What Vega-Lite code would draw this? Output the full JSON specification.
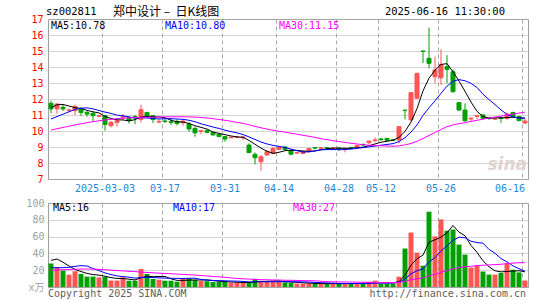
{
"$schema": "https://vega.github.io/schema/vega-lite/v6.json",
"background": "#ffffff",
"padding": {"left": 25, "top": 5, "right": 5, "bottom": 2},
"config": {"view": {"stroke": "#a0a0a0", "strokeWidth": 1}, "font": "DejaVu Sans Mono",
  "axis": {"labelOverlap": false, "labelFlush": false, "labelSeparation": 0}},
"datasets": {"k": [
{"d":"2025-02-18","o":11.73,"h":11.89,"l":11.10,"c":11.38,"v":28.0,"m5":11.46,"m10":10.75,"m30":10.06,"vm5":31.7,"vm10":23.0,"vm30":19.8},
{"d":"2025-02-19","o":11.38,"h":11.73,"l":11.08,"c":11.69,"v":23.4,"m5":11.64,"m10":10.90,"m30":10.14,"vm5":33.3,"vm10":23.0,"vm30":20.3},
{"d":"2025-02-20","o":11.48,"h":11.69,"l":11.25,"c":11.38,"v":19.6,"m5":11.66,"m10":11.05,"m30":10.22,"vm5":29.5,"vm10":23.0,"vm30":20.6},
{"d":"2025-02-21","o":11.28,"h":11.40,"l":11.20,"c":11.32,"v":14.6,"m5":11.56,"m10":11.20,"m30":10.30,"vm5":25.0,"vm10":23.5,"vm30":20.8},
{"d":"2025-02-24","o":11.27,"h":11.66,"l":11.00,"c":11.52,"v":18.8,"m5":11.46,"m10":11.35,"m30":10.38,"vm5":20.9,"vm10":24.5,"vm30":21.2},
{"d":"2025-02-25","o":11.41,"h":11.48,"l":10.94,"c":11.16,"v":15.6,"m5":11.41,"m10":11.42,"m30":10.45,"vm5":18.4,"vm10":25.4,"vm30":21.4},
{"d":"2025-02-26","o":11.16,"h":11.27,"l":10.89,"c":11.06,"v":12.4,"m5":11.29,"m10":11.45,"m30":10.52,"vm5":16.2,"vm10":25.0,"vm30":21.4},
{"d":"2025-02-27","o":11.10,"h":11.20,"l":10.60,"c":10.96,"v":12.4,"m5":11.20,"m10":11.38,"m30":10.58,"vm5":14.8,"vm10":22.0,"vm30":21.3},
{"d":"2025-02-28","o":10.92,"h":11.00,"l":10.85,"c":10.95,"v":11.4,"m5":11.13,"m10":11.28,"m30":10.64,"vm5":14.1,"vm10":19.5,"vm30":21.0},
{"d":"2025-03-03","o":10.96,"h":11.00,"l":10.02,"c":10.41,"v":12.0,"m5":10.91,"m10":11.18,"m30":10.69,"vm5":12.8,"vm10":16.8,"vm30":20.6},
{"d":"2025-03-04","o":10.33,"h":10.62,"l":10.22,"c":10.54,"v":7.7,"m5":10.78,"m10":11.10,"m30":10.73,"vm5":11.2,"vm10":14.8,"vm30":20.1},
{"d":"2025-03-05","o":10.54,"h":10.77,"l":10.27,"c":10.64,"v":7.7,"m5":10.70,"m10":10.99,"m30":10.77,"vm5":10.2,"vm10":13.2,"vm30":19.6},
{"d":"2025-03-06","o":10.85,"h":11.06,"l":10.69,"c":10.90,"v":11.6,"m5":10.69,"m10":10.95,"m30":10.80,"vm5":10.1,"vm10":12.4,"vm30":19.1},
{"d":"2025-03-07","o":10.84,"h":10.91,"l":10.47,"c":10.65,"v":7.5,"m5":10.63,"m10":10.88,"m30":10.82,"vm5":9.3,"vm10":11.7,"vm30":18.7},
{"d":"2025-03-10","o":10.90,"h":11.00,"l":10.44,"c":10.83,"v":7.5,"m5":10.71,"m10":10.81,"m30":10.84,"vm5":8.4,"vm10":10.6,"vm30":18.3},
{"d":"2025-03-11","o":10.73,"h":11.65,"l":10.53,"c":11.33,"v":21.4,"m5":10.87,"m10":10.83,"m30":10.85,"vm5":11.1,"vm10":11.2,"vm30":17.8},
{"d":"2025-03-12","o":11.16,"h":11.20,"l":10.87,"c":10.90,"v":15.5,"m5":10.92,"m10":10.81,"m30":10.86,"vm5":12.7,"vm10":11.5,"vm30":17.3},
{"d":"2025-03-13","o":10.96,"h":10.98,"l":10.50,"c":10.72,"v":9.5,"m5":10.89,"m10":10.79,"m30":10.87,"vm5":12.3,"vm10":11.2,"vm30":16.9},
{"d":"2025-03-14","o":10.56,"h":10.72,"l":10.50,"c":10.60,"v":8.7,"m5":10.88,"m10":10.75,"m30":10.88,"vm5":12.5,"vm10":10.9,"vm30":16.5},
{"d":"2025-03-17","o":10.62,"h":10.75,"l":10.50,"c":10.60,"v":7.5,"m5":10.83,"m10":10.77,"m30":10.88,"vm5":12.5,"vm10":10.5,"vm30":16.1},
{"d":"2025-03-18","o":10.58,"h":10.75,"l":10.38,"c":10.53,"v":7.5,"m5":10.67,"m10":10.77,"m30":10.89,"vm5":9.7,"vm10":10.4,"vm30":15.8},
{"d":"2025-03-19","o":10.60,"h":10.72,"l":10.35,"c":10.47,"v":6.3,"m5":10.58,"m10":10.75,"m30":10.89,"vm5":7.9,"vm10":10.3,"vm30":15.4},
{"d":"2025-03-20","o":10.52,"h":10.73,"l":10.33,"c":10.62,"v":9.5,"m5":10.56,"m10":10.73,"m30":10.89,"vm5":7.9,"vm10":10.1,"vm30":15.0},
{"d":"2025-03-21","o":10.44,"h":10.54,"l":9.96,"c":10.13,"v":10.3,"m5":10.47,"m10":10.67,"m30":10.88,"vm5":8.2,"vm10":10.4,"vm30":14.6},
{"d":"2025-03-24","o":10.16,"h":10.27,"l":9.64,"c":9.89,"v":8.3,"m5":10.33,"m10":10.58,"m30":10.87,"vm5":8.4,"vm10":10.5,"vm30":14.2},
{"d":"2025-03-25","o":9.98,"h":10.05,"l":9.80,"c":10.02,"v":7.1,"m5":10.23,"m10":10.45,"m30":10.85,"vm5":8.3,"vm10":9.0,"vm30":13.7},
{"d":"2025-03-26","o":10.02,"h":10.06,"l":9.85,"c":9.92,"v":6.9,"m5":10.12,"m10":10.35,"m30":10.81,"vm5":8.4,"vm10":8.2,"vm30":13.1},
{"d":"2025-03-27","o":9.90,"h":9.95,"l":9.70,"c":9.76,"v":6.0,"m5":9.94,"m10":10.25,"m30":10.77,"vm5":7.7,"vm10":7.8,"vm30":12.5},
{"d":"2025-03-28","o":9.80,"h":9.85,"l":9.60,"c":9.66,"v":6.0,"m5":9.85,"m10":10.16,"m30":10.72,"vm5":6.9,"vm10":7.5,"vm30":12.0},
{"d":"2025-03-31","o":9.65,"h":9.68,"l":9.33,"c":9.50,"v":6.0,"m5":9.77,"m10":10.05,"m30":10.67,"vm5":6.4,"vm10":7.4,"vm30":11.6},
{"d":"2025-04-01","o":9.58,"h":9.64,"l":9.55,"c":9.62,"v":5.0,"m5":9.69,"m10":9.96,"m30":10.61,"vm5":6.0,"vm10":7.1,"vm30":10.8},
{"d":"2025-04-02","o":9.60,"h":9.70,"l":9.55,"c":9.63,"v":5.0,"m5":9.63,"m10":9.88,"m30":10.54,"vm5":5.6,"vm10":7.0,"vm30":10.2},
{"d":"2025-04-03","o":9.58,"h":9.66,"l":9.45,"c":9.63,"v":5.0,"m5":9.61,"m10":9.78,"m30":10.48,"vm5":5.4,"vm10":6.6,"vm30":9.7},
{"d":"2025-04-07","o":9.12,"h":9.23,"l":8.60,"c":8.66,"v":5.5,"m5":9.41,"m10":9.63,"m30":10.39,"vm5":5.3,"vm10":6.1,"vm30":9.4},
{"d":"2025-04-08","o":8.54,"h":8.66,"l":7.91,"c":8.33,"v":9.7,"m5":9.17,"m10":9.47,"m30":10.29,"vm5":6.0,"vm10":6.2,"vm30":9.1},
{"d":"2025-04-09","o":8.08,"h":8.50,"l":7.52,"c":8.39,"v":7.5,"m5":8.93,"m10":9.31,"m30":10.20,"vm5":6.5,"vm10":6.3,"vm30":8.8},
{"d":"2025-04-10","o":8.50,"h":8.78,"l":8.45,"c":8.71,"v":6.5,"m5":8.74,"m10":9.19,"m30":10.12,"vm5":6.8,"vm10":6.2,"vm30":8.6},
{"d":"2025-04-11","o":8.60,"h":9.00,"l":8.55,"c":8.90,"v":6.5,"m5":8.60,"m10":9.10,"m30":10.05,"vm5":7.1,"vm10":6.3,"vm30":8.4},
{"d":"2025-04-14","o":8.85,"h":9.05,"l":8.80,"c":9.00,"v":6.5,"m5":8.67,"m10":9.04,"m30":9.98,"vm5":7.3,"vm10":6.3,"vm30":8.3},
{"d":"2025-04-15","o":9.00,"h":9.06,"l":8.81,"c":8.85,"v":5.5,"m5":8.77,"m10":8.97,"m30":9.93,"vm5":6.5,"vm10":6.3,"vm30":8.0},
{"d":"2025-04-16","o":8.77,"h":8.85,"l":8.50,"c":8.55,"v":5.0,"m5":8.80,"m10":8.87,"m30":9.86,"vm5":6.0,"vm10":6.3,"vm30":7.95},
{"d":"2025-04-17","o":8.62,"h":8.70,"l":8.58,"c":8.65,"v":4.0,"m5":8.79,"m10":8.77,"m30":9.80,"vm5":5.5,"vm10":6.2,"vm30":7.8},
{"d":"2025-04-18","o":8.60,"h":8.76,"l":8.55,"c":8.72,"v":4.0,"m5":8.75,"m10":8.68,"m30":9.73,"vm5":5.0,"vm10":6.1,"vm30":7.6},
{"d":"2025-04-21","o":8.71,"h":8.92,"l":8.65,"c":8.90,"v":4.5,"m5":8.73,"m10":8.70,"m30":9.67,"vm5":4.6,"vm10":6.0,"vm30":7.5},
{"d":"2025-04-22","o":8.97,"h":9.00,"l":8.85,"c":8.93,"v":4.0,"m5":8.75,"m10":8.76,"m30":9.60,"vm5":4.3,"vm10":5.4,"vm30":7.4},
{"d":"2025-04-23","o":8.92,"h":9.00,"l":8.85,"c":8.95,"v":4.0,"m5":8.83,"m10":8.82,"m30":9.52,"vm5":4.1,"vm10":5.1,"vm30":6.8},
{"d":"2025-04-24","o":8.96,"h":9.00,"l":8.88,"c":8.94,"v":4.0,"m5":8.89,"m10":8.84,"m30":9.46,"vm5":4.1,"vm10":4.8,"vm30":6.4},
{"d":"2025-04-25","o":8.92,"h":8.96,"l":8.88,"c":8.93,"v":4.0,"m5":8.93,"m10":8.84,"m30":9.40,"vm5":4.1,"vm10":4.6,"vm30":6.2},
{"d":"2025-04-28","o":8.93,"h":8.95,"l":8.75,"c":8.90,"v":4.0,"m5":8.93,"m10":8.83,"m30":9.34,"vm5":4.0,"vm10":4.3,"vm30":6.1},
{"d":"2025-04-29","o":8.88,"h":8.92,"l":8.66,"c":8.90,"v":4.5,"m5":8.92,"m10":8.84,"m30":9.29,"vm5":4.1,"vm10":4.2,"vm30":6.0},
{"d":"2025-04-30","o":8.96,"h":8.98,"l":8.88,"c":8.92,"v":4.0,"m5":8.92,"m10":8.87,"m30":9.23,"vm5":4.1,"vm10":4.1,"vm30":5.8},
{"d":"2025-05-06","o":8.96,"h":9.12,"l":8.94,"c":9.10,"v":4.5,"m5":8.95,"m10":8.92,"m30":9.19,"vm5":4.2,"vm10":4.2,"vm30":5.8},
{"d":"2025-05-07","o":9.16,"h":9.22,"l":9.05,"c":9.13,"v":3.9,"m5":8.99,"m10":8.96,"m30":9.14,"vm5":4.2,"vm10":4.1,"vm30":5.6},
{"d":"2025-05-08","o":9.27,"h":9.40,"l":9.18,"c":9.37,"v":6.3,"m5":9.08,"m10":9.01,"m30":9.11,"vm5":4.6,"vm10":4.3,"vm30":5.5},
{"d":"2025-05-09","o":9.40,"h":9.60,"l":9.30,"c":9.44,"v":7.5,"m5":9.19,"m10":9.06,"m30":9.10,"vm5":5.2,"vm10":4.7,"vm30":5.4},
{"d":"2025-05-12","o":9.50,"h":9.57,"l":9.40,"c":9.46,"v":3.9,"m5":9.30,"m10":9.11,"m30":9.08,"vm5":5.2,"vm10":4.7,"vm30":5.3},
{"d":"2025-05-13","o":9.54,"h":9.57,"l":9.38,"c":9.42,"v":3.9,"m5":9.36,"m10":9.16,"m30":9.06,"vm5":5.1,"vm10":4.7,"vm30":5.2},
{"d":"2025-05-14","o":9.45,"h":9.50,"l":9.38,"c":9.42,"v":3.9,"m5":9.42,"m10":9.21,"m30":9.05,"vm5":5.1,"vm10":4.6,"vm30":5.2},
{"d":"2025-05-15","o":9.44,"h":10.30,"l":9.22,"c":10.27,"v":12.3,"m5":9.60,"m10":9.34,"m30":9.07,"vm5":6.3,"vm10":5.5,"vm30":5.4},
{"d":"2025-05-16","o":11.30,"h":11.30,"l":10.73,"c":11.29,"v":45.8,"m5":9.97,"m10":9.58,"m30":9.13,"vm5":14.0,"vm10":9.6,"vm30":6.7},
{"d":"2025-05-19","o":10.70,"h":12.43,"l":10.62,"c":12.40,"v":64.8,"m5":10.56,"m10":9.93,"m30":9.22,"vm5":26.1,"vm10":15.7,"vm30":8.7},
{"d":"2025-05-20","o":12.05,"h":13.64,"l":12.00,"c":13.60,"v":41.0,"m5":11.40,"m10":10.38,"m30":9.36,"vm5":33.6,"vm10":19.3,"vm30":9.9},
{"d":"2025-05-21","o":15.00,"h":15.00,"l":14.25,"c":14.98,"v":25.4,"m5":12.51,"m10":10.97,"m30":9.53,"vm5":37.9,"vm10":21.5,"vm30":10.6},
{"d":"2025-05-22","o":14.54,"h":16.46,"l":13.91,"c":14.23,"v":89.6,"m5":13.30,"m10":11.45,"m30":9.72,"vm5":53.3,"vm10":29.8,"vm30":13.4},
{"d":"2025-05-23","o":13.39,"h":14.64,"l":12.98,"c":13.81,"v":60.3,"m5":13.80,"m10":11.89,"m30":9.90,"vm5":56.2,"vm10":35.1,"vm30":15.1},
{"d":"2025-05-26","o":13.33,"h":15.10,"l":12.88,"c":14.16,"v":80.5,"m5":14.16,"m10":12.36,"m30":10.09,"vm5":59.4,"vm10":42.8,"vm30":17.5},
{"d":"2025-05-27","o":14.02,"h":14.74,"l":12.98,"c":13.85,"v":67.0,"m5":14.21,"m10":12.80,"m30":10.27,"vm5":64.6,"vm10":49.1,"vm30":19.5},
{"d":"2025-05-28","o":13.70,"h":13.85,"l":12.39,"c":12.46,"v":68.4,"m5":13.70,"m10":13.11,"m30":10.38,"vm5":73.2,"vm10":55.5,"vm30":21.6},
{"d":"2025-05-29","o":11.77,"h":11.80,"l":11.27,"c":11.31,"v":50.5,"m5":13.12,"m10":13.21,"m30":10.46,"vm5":65.3,"vm10":59.3,"vm30":23.0},
{"d":"2025-05-30","o":11.31,"h":11.73,"l":10.58,"c":10.64,"v":38.6,"m5":12.48,"m10":13.14,"m30":10.52,"vm5":61.0,"vm10":58.6,"vm30":24.1},
{"d":"2025-06-03","o":10.75,"h":10.85,"l":10.62,"c":10.80,"v":23.2,"m5":11.81,"m10":12.98,"m30":10.60,"vm5":49.5,"vm10":54.5,"vm30":24.7},
{"d":"2025-06-04","o":10.92,"h":11.00,"l":10.75,"c":10.96,"v":25.4,"m5":11.23,"m10":12.72,"m30":10.67,"vm5":41.2,"vm10":52.9,"vm30":25.5},
{"d":"2025-06-05","o":11.00,"h":11.05,"l":10.73,"c":10.80,"v":18.4,"m5":10.90,"m10":12.30,"m30":10.74,"vm5":31.2,"vm10":52.2,"vm30":25.9},
{"d":"2025-06-06","o":10.82,"h":10.85,"l":10.70,"c":10.78,"v":14.8,"m5":10.80,"m10":11.96,"m30":10.81,"vm5":24.1,"vm10":44.7,"vm30":26.3},
{"d":"2025-06-09","o":10.74,"h":10.85,"l":10.70,"c":10.78,"v":14.8,"m5":10.82,"m10":11.65,"m30":10.87,"vm5":19.3,"vm10":40.2,"vm30":26.6},
{"d":"2025-06-10","o":10.85,"h":10.88,"l":10.50,"c":10.78,"v":16.7,"m5":10.82,"m10":11.32,"m30":10.93,"vm5":18.0,"vm10":33.8,"vm30":27.1},
{"d":"2025-06-11","o":10.80,"h":11.15,"l":10.70,"c":11.05,"v":27.7,"m5":10.84,"m10":11.04,"m30":11.00,"vm5":18.5,"vm10":29.9,"vm30":27.9},
{"d":"2025-06-12","o":11.16,"h":11.20,"l":10.85,"c":10.90,"v":20.6,"m5":10.86,"m10":10.88,"m30":11.06,"vm5":18.9,"vm10":25.1,"vm30":28.4},
{"d":"2025-06-13","o":10.90,"h":10.95,"l":10.60,"c":10.65,"v":17.4,"m5":10.83,"m10":10.81,"m30":11.12,"vm5":19.4,"vm10":21.8,"vm30":28.9},
{"d":"2025-06-16","o":10.50,"h":10.75,"l":10.45,"c":10.62,"v":7.7,"m5":10.80,"m10":10.81,"m30":11.18,"vm5":18.0,"vm10":18.7,"vm30":29.0}
]},
"bounds": "flush",
"spacing": 24,
"vconcat": [
{
"width": 480, "height": 160,
"data": {"name": "k"},
"encoding": {"x": {"field": "d", "type": "ordinal", "scale": {"type": "band", "paddingInner": 0, "paddingOuter": 0},
  "axis": {"title": null, "values": ["2025-03-03","2025-03-17","2025-03-31","2025-04-14","2025-04-28","2025-05-12","2025-05-26","2025-06-16"],
    "labelExpr": "datum.value == '2025-03-03' ? datum.value : slice(datum.value, 5)",
    "bandPosition": 0, "grid": true, "gridDash": [4, 3], "gridColor": "#a8a8a8", "ticks": false, "domain": false,
    "labelColor": "#1e88d8", "labelFont": "DejaVu Sans Mono", "labelFontSize": 10, "labelPadding": 4, "labelAngle": 0, "labelOverlap": false,
    "labelAlign": {"condition": {"test": "datum.value == '2025-06-16'", "value": "right"}, "value": "center"}}}},
"layer": [
  {"mark": {"type": "rule", "strokeWidth": 1},
   "encoding": {"y": {"field": "l", "type": "quantitative", "scale": {"domain": [7, 17], "nice": false, "zero": false},
      "axis": {"title": null, "tickCount": 10, "labelOverlap": false, "labelFlush": false, "grid": true, "gridDash": [1, 1], "gridColor": "#a8a8a8", "ticks": false, "domain": false, "labelColor": "#ff0000", "labelFont": "DejaVu Sans Mono", "labelFontSize": 10, "labelPadding": 5}},
     "y2": {"field": "h"},
     "color": {"condition": {"test": "datum.c >= datum.o", "value": "#ff5555"}, "value": "#00a000"}}},
  {"mark": {"type": "bar", "width": {"band": 0.67}, "strokeWidth": 1},
   "encoding": {"y": {"field": "o", "type": "quantitative"}, "y2": {"field": "c"},
     "color": {"condition": {"test": "datum.c >= datum.o", "value": "#ff5555"}, "value": "#00a000"},
     "stroke": {"condition": {"test": "datum.c >= datum.o", "value": "#ff5555"}, "value": "#00a000"}}},
  {"transform": [{"fold": ["m5", "m10", "m30"], "as": ["ma", "val"]}],
   "mark": {"type": "line", "strokeWidth": 1},
   "encoding": {"y": {"field": "val", "type": "quantitative"},
     "color": {"field": "ma", "type": "nominal", "scale": {"domain": ["m5","m10","m30","vm5","vm10","vm30"], "range": ["#000000","#0000ff","#ff00ff","#000000","#0000ff","#ff00ff"]}, "legend": null}}},
  {"data": {"values": [{"d": "2025-02-18", "t": "MA5:10.78", "s": "m5"}, {"d": "2025-03-17", "t": "MA10:10.80", "s": "m10"}, {"d": "2025-04-14", "t": "MA30:11.15", "s": "m30"}]},
   "mark": {"type": "text", "align": "left", "baseline": "middle", "dx": 3, "font": "DejaVu Sans Mono", "fontSize": 10},
   "encoding": {"x": {"field": "d", "type": "ordinal", "bandPosition": 0}, "y": {"datum": 16.59},
     "text": {"field": "t"}, "color": {"field": "s", "type": "nominal", "legend": null}}},
  {"data": {"values": [{"d": "2025-02-18", "t": "sz002811"}]},
   "mark": {"type": "text", "align": "left", "baseline": "middle", "dx": -2, "font": "DejaVu Sans Mono", "fontSize": 10.5, "color": "#000000"},
   "encoding": {"x": {"field": "d", "type": "ordinal", "bandPosition": 0}, "y": {"datum": 17.42}, "text": {"field": "t"}}},
  {"data": {"values": [{"d": "2025-03-05", "t": "郑中设计 – \u00a0日K线图"}]},
   "mark": {"type": "text", "align": "left", "baseline": "middle", "dx": -1, "font": "Noto Sans CJK SC", "fontSize": 12, "color": "#000000"},
   "encoding": {"x": {"field": "d", "type": "ordinal", "bandPosition": 0}, "y": {"datum": 17.42}, "text": {"field": "t"}}},
  {"data": {"values": [{"d": "2025-06-11", "t": "2025-06-16 11:30:00"}]},
   "mark": {"type": "text", "align": "right", "baseline": "middle", "dx": 1, "font": "DejaVu Sans Mono", "fontSize": 10.5, "color": "#000000"},
   "encoding": {"x": {"field": "d", "type": "ordinal", "bandPosition": 0}, "y": {"datum": 17.42}, "text": {"field": "t"}}},
  {"data": {"values": [{"d": "2025-06-16", "t": "sina"}]},
   "mark": {"type": "text", "align": "right", "baseline": "middle", "dx": -1, "font": "DejaVu Sans", "fontSize": 17, "fontStyle": "italic", "fontWeight": "bold", "color": "#e2d2d2"},
   "encoding": {"x": {"field": "d", "type": "ordinal", "bandPosition": 1}, "y": {"datum": 7.9}, "text": {"field": "t"}}}
]
},
{
"width": 480, "height": 84,
"data": {"name": "k"},
"encoding": {"x": {"field": "d", "type": "ordinal", "scale": {"type": "band", "paddingInner": 0, "paddingOuter": 0},
  "axis": {"title": null, "values": ["2025-03-03","2025-03-17","2025-03-31","2025-04-14","2025-04-28","2025-05-12","2025-05-26","2025-06-16"],
    "bandPosition": 0, "grid": true, "gridDash": [4, 3], "gridColor": "#a8a8a8", "ticks": false, "domain": false, "labels": false}}},
"layer": [
  {"mark": {"type": "bar", "width": {"band": 0.83}},
   "encoding": {"y": {"field": "v", "type": "quantitative", "scale": {"domain": [0, 100], "nice": false},
      "axis": {"title": null, "tickCount": 5, "labelOverlap": false, "labelFlush": false, "labelExpr": "datum.value == 0 ? 'x万' : datum.label", "grid": true, "gridDash": [1, 1], "gridColor": "#a8a8a8", "ticks": false, "domain": false, "labelColor": "#a0a0a0", "labelFont": "DejaVu Sans Mono, Noto Sans CJK SC", "labelFontSize": 10, "labelPadding": 4}},
     "color": {"condition": {"test": "datum.c >= datum.o", "value": "#ff5555"}, "value": "#00a000"}}},
  {"transform": [{"fold": ["vm5", "vm10", "vm30"], "as": ["ma", "val"]}],
   "mark": {"type": "line", "strokeWidth": 1},
   "encoding": {"y": {"field": "val", "type": "quantitative"},
     "color": {"field": "ma", "type": "nominal", "scale": {"domain": ["m5","m10","m30","vm5","vm10","vm30"], "range": ["#000000","#0000ff","#ff00ff","#000000","#0000ff","#ff00ff"]}, "legend": null}}},
  {"data": {"values": [{"d": "2025-02-18", "t": "MA5:16", "s": "vm5"}, {"d": "2025-03-18", "t": "MA10:17", "s": "vm10"}, {"d": "2025-04-16", "t": "MA30:27", "s": "vm30"}]},
   "mark": {"type": "text", "align": "left", "baseline": "middle", "dx": 5, "font": "DejaVu Sans Mono", "fontSize": 10},
   "encoding": {"x": {"field": "d", "type": "ordinal", "bandPosition": 0}, "y": {"datum": 94.4},
     "text": {"field": "t"}, "color": {"field": "s", "type": "nominal", "legend": null}}},
  {"data": {"values": [{"d": "2025-02-18", "t": "Copyright 2025 SINA.COM"}]},
   "mark": {"type": "text", "align": "left", "baseline": "middle", "dx": 0, "font": "DejaVu Sans Mono", "fontSize": 10, "color": "#606060"},
   "encoding": {"x": {"field": "d", "type": "ordinal", "bandPosition": 0}, "y": {"datum": -8.8}, "text": {"field": "t"}}},
  {"data": {"values": [{"d": "2025-06-16", "t": "http://finance.sina.com.cn"}]},
   "mark": {"type": "text", "align": "right", "baseline": "middle", "dx": -2, "font": "DejaVu Sans Mono", "fontSize": 10, "color": "#606060"},
   "encoding": {"x": {"field": "d", "type": "ordinal", "bandPosition": 1}, "y": {"datum": -8.8}, "text": {"field": "t"}}}
]
}
]
}
